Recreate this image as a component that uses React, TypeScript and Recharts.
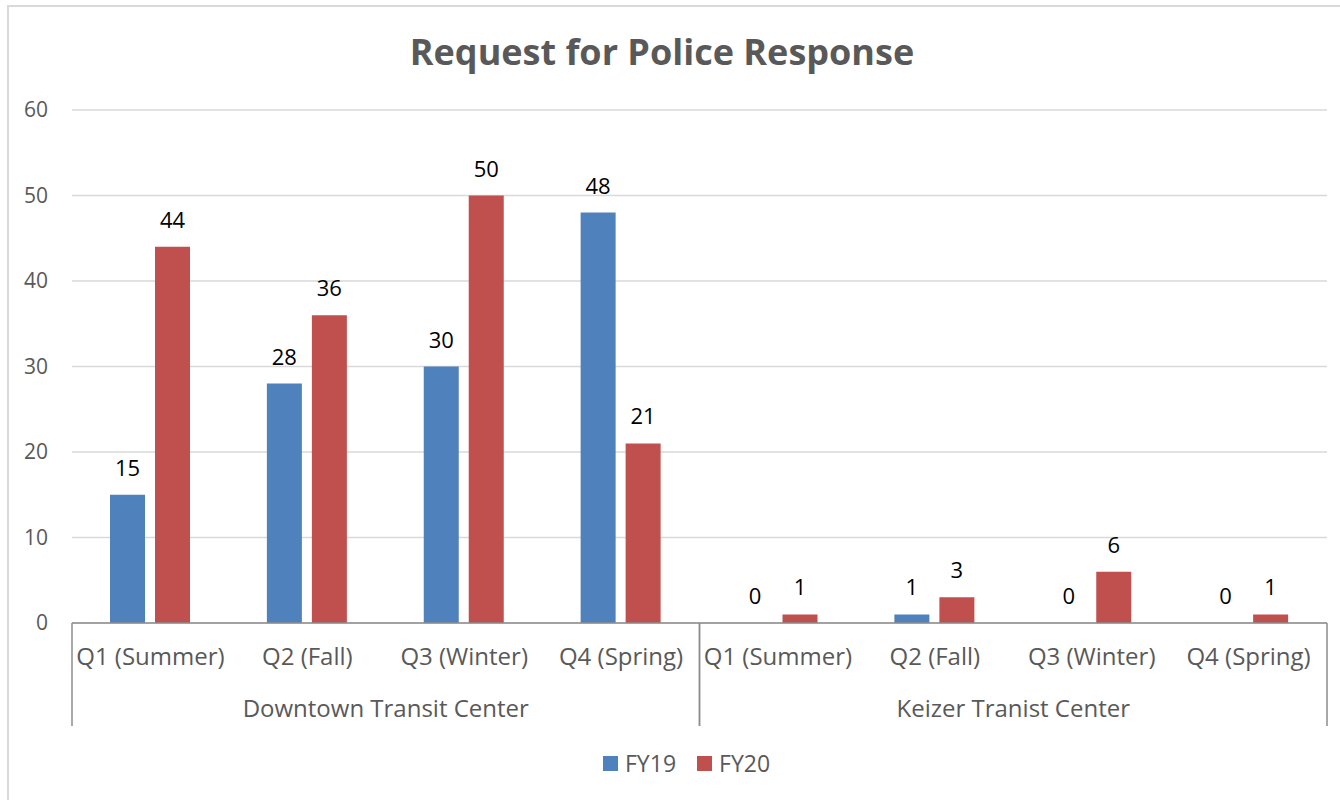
import React from "react";
import { BarChart, Bar, XAxis, YAxis, CartesianGrid, LabelList, Legend } from "recharts";

const quarters = ["Q1 (Summer)", "Q2 (Fall)", "Q3 (Winter)", "Q4 (Spring)", "Q1 (Summer)", "Q2 (Fall)", "Q3 (Winter)", "Q4 (Spring)"];
const groups = ["Downtown Transit Center", "Downtown Transit Center", "Downtown Transit Center", "Downtown Transit Center", "Keizer Tranist Center", "Keizer Tranist Center", "Keizer Tranist Center", "Keizer Tranist Center"];
const fy19 = [15, 28, 30, 48, 0, 1, 0, 0];
const fy20 = [44, 36, 50, 21, 1, 3, 6, 1];
const yTicks = [0, 10, 20, 30, 40, 50, 60];

const data = quarters.map((q, i) => ({ quarter: q, group: groups[i], FY19: fy19[i], FY20: fy20[i] }));

const FONT = "'Open Sans', sans-serif";
const BLUE = "#4F81BD";
const RED = "#C0504D";
const AXIS = "#8c8c8c";
const TXT = "#595959";

const QuarterTick = (props: any) => {
  const { x, y, payload } = props;
  return (
    <text x={x} y={y + 42} textAnchor="middle" fill={TXT} fontSize={24} fontFamily={FONT}>
      {payload.value}
    </text>
  );
};

const GroupTick = (props: any) => {
  const { x, y, payload } = props;
  const half = payload.offset ?? 313.75;
  return (
    <g>
      <line x1={x - half} x2={x - half} y1={y - 50} y2={y + 53} stroke={AXIS} strokeWidth={1.5} />
      <line x1={x + half} x2={x + half} y1={y - 50} y2={y + 53} stroke={AXIS} strokeWidth={1.5} />
      <text x={x} y={y + 44} textAnchor="middle" fill={TXT} fontSize={24} fontFamily={FONT}>
        {payload.value}
      </text>
    </g>
  );
};

const LegendContent = () => (
  <div style={{ display: "flex", alignItems: "center", fontFamily: FONT, fontSize: 23, color: TXT }}>
    {[["FY19", BLUE], ["FY20", RED]].map(([name, color], i) => (
      <div key={name} style={{ display: "flex", alignItems: "center", marginLeft: i ? 21 : 0 }}>
        <span style={{ display: "inline-block", width: 15, height: 15, background: color, marginRight: 7 }} />
        <span style={{ lineHeight: "30px" }}>{name}</span>
      </div>
    ))}
  </div>
);

const tiny = () => 0.01;

export default function App() {
  return (
    <div style={{ position: "absolute", left: 0, top: 0, width: 1340, height: 800, background: "#fff", overflow: "hidden" }}>
      <div style={{ position: "absolute", left: 7, top: 5, width: 1400, height: 900, border: "2px solid #d9d9d9", boxSizing: "border-box" }} />
      <svg style={{ position: "absolute", left: 0, top: 0 }} width={1340} height={100}>
        <text x={662} y={65} textAnchor="middle" fill={TXT} fontSize={36} fontWeight={700} fontFamily={FONT}>
          Request for Police Response
        </text>
      </svg>
      <div style={{ position: "absolute", left: 0, top: 0 }}>
        <BarChart width={1340} height={800} data={data} margin={{ top: 110, right: 13, left: 12, bottom: 74 }} barSize={35} barGap={10}>
          <CartesianGrid xAxisId="a1" vertical={false} stroke="#d9d9d9" strokeWidth={1.3} />
          <XAxis xAxisId="a1" dataKey="quarter" height={50} tickLine={false} tickSize={0} tickMargin={0} interval={0} axisLine={{ stroke: AXIS, strokeWidth: 1.5 }} tick={<QuarterTick />} />
          <XAxis xAxisId="b2" dataKey="group" allowDuplicatedCategory={false} height={53} tickLine={false} tickSize={0} tickMargin={0} interval={0} axisLine={false} tick={<GroupTick />} />
          <YAxis domain={[0, 60]} ticks={yTicks} width={60} tickLine={false} axisLine={false} tickSize={0} tickMargin={24} tick={{ fill: TXT, fontSize: 21, fontFamily: FONT }} />
          <Legend layout="horizontal" verticalAlign="middle" align="center" wrapperStyle={{ top: 748, left: 603, width: 300, height: 30 }} content={<LegendContent />} />
          <Bar xAxisId="a1" dataKey="FY19" fill={BLUE} minPointSize={tiny} isAnimationActive={false}>
            <LabelList dataKey="FY19" position="top" offset={19} fill="#000" fontSize={22} fontFamily={FONT} />
          </Bar>
          <Bar xAxisId="a1" dataKey="FY20" fill={RED} minPointSize={tiny} isAnimationActive={false}>
            <LabelList dataKey="FY20" position="top" offset={19} fill="#000" fontSize={22} fontFamily={FONT} />
          </Bar>
        </BarChart>
      </div>
    </div>
  );
}
